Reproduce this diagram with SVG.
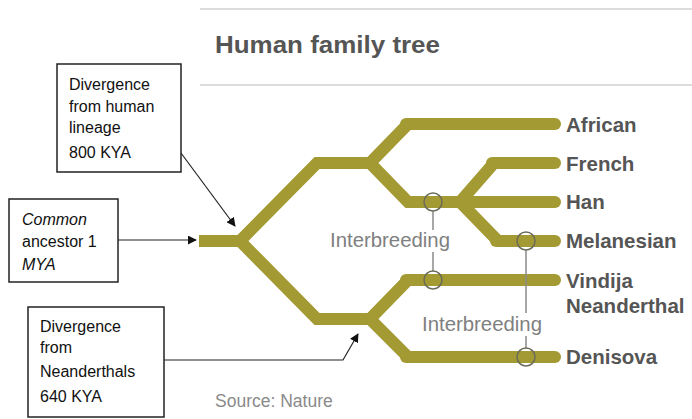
<svg xmlns="http://www.w3.org/2000/svg" width="692" height="419" viewBox="0 0 692 419">
  <style>
    .branch { fill: none; stroke: #a39a33; stroke-width: 12; stroke-linejoin: miter; }
    .tip { fill: none; stroke: #a39a33; stroke-width: 12; stroke-linecap: round; }
    .rule { stroke: #d0d0d0; stroke-width: 1.5; }
    .label { font-family: "Liberation Sans", Arial, sans-serif; font-weight: bold; font-size: 20.5px; fill: #555555; }
    .title { font-family: "Liberation Sans", Arial, sans-serif; font-weight: bold; font-size: 23px; fill: #555555; }
    .note { font-family: "Liberation Sans", Arial, sans-serif; font-size: 19.5px; fill: #808080; }
    .src { font-family: "Liberation Sans", Arial, sans-serif; font-size: 17.5px; fill: #8a8a8a; }
    .hit { fill: none; stroke: #6b6b5a; stroke-width: 1.5; }
    .link { stroke: #8a8a8a; stroke-width: 1.5; }
    .box { fill: #ffffff; stroke: #222222; stroke-width: 1.5; }
    .boxtext { font-family: "Liberation Sans", Arial, sans-serif; font-size: 16px; fill: #111111; }
    .arrow { fill: none; stroke: #222222; stroke-width: 1.2; }
  </style>
  <defs>
    <marker id="head" viewBox="0 0 10 10" refX="9" refY="5" markerWidth="9" markerHeight="9" markerUnits="userSpaceOnUse" orient="auto">
      <path d="M0,0 L10,5 L0,10 Z" fill="#111111"/>
    </marker>
  </defs>

  <rect width="692" height="419" fill="#ffffff"/>

  <!-- header -->
  <line class="rule" x1="200" y1="9" x2="692" y2="9"/>
  <text class="title" x="215" y="53" textLength="225" lengthAdjust="spacingAndGlyphs">Human family tree</text>
  <line class="rule" x1="200" y1="85" x2="692" y2="85"/>

  <!-- tree branches -->
  <g id="tree">
    <path class="branch" d="M199,241 H240 L317,163 H370 L408,124"/>
    <path class="branch" d="M370,163 L408,202 H460 L494,163"/>
    <path class="branch" d="M460,202 L498,241"/>
    <path class="branch" d="M240,241 L317,319 H370 L408,280"/>
    <path class="branch" d="M370,319 L408,357"/>
    <path class="tip" d="M406,124 H555"/>
    <path class="tip" d="M492,163 H555"/>
    <path class="tip" d="M455,202 H555"/>
    <path class="tip" d="M496,241 H555"/>
    <path class="tip" d="M406,280 H555"/>
    <path class="tip" d="M406,357 H555"/>
  </g>

  <!-- interbreeding links -->
  <g id="interbreeding">
    <line class="link" x1="433" y1="211" x2="433" y2="230"/>
    <line class="link" x1="433" y1="252" x2="433" y2="271"/>
    <text class="note" x="330" y="247" textLength="120" lengthAdjust="spacingAndGlyphs">Interbreeding</text>
    <line class="link" x1="526" y1="250" x2="526" y2="313"/>
    <line class="link" x1="526" y1="336" x2="526" y2="348"/>
    <text class="note" x="422" y="331" textLength="120" lengthAdjust="spacingAndGlyphs">Interbreeding</text>
    <circle class="hit" cx="433" cy="202" r="9"/>
    <circle class="hit" cx="433" cy="280" r="9"/>
    <circle class="hit" cx="526" cy="241" r="9"/>
    <circle class="hit" cx="526" cy="357" r="9"/>
  </g>

  <!-- leaf labels -->
  <g id="labels">
    <text class="label" x="566" y="132">African</text>
    <text class="label" x="566" y="171">French</text>
    <text class="label" x="566" y="209">Han</text>
    <text class="label" x="566" y="248">Melanesian</text>
    <text class="label" x="566" y="288">Vindija</text>
    <text class="label" x="566" y="313">Neanderthal</text>
    <text class="label" x="566" y="364">Denisova</text>
  </g>

  <text class="src" x="215" y="407">Source: Nature</text>

  <!-- annotation connectors -->
  <g id="connectors">
    <line class="arrow" x1="181" y1="153" x2="235" y2="226" marker-end="url(#head)"/>
    <line class="arrow" x1="118" y1="240" x2="196" y2="240" marker-end="url(#head)"/>
    <polyline class="arrow" points="164,360 343,360 358,334" marker-end="url(#head)"/>
  </g>

  <!-- annotation boxes -->
  <g id="note-human">
    <rect class="box" x="57" y="64" width="124" height="108"/>
    <text class="boxtext" x="69" y="90">Divergence</text>
    <text class="boxtext" x="69" y="112">from human</text>
    <text class="boxtext" x="69" y="133">lineage</text>
    <text class="boxtext" x="69" y="158">800 KYA</text>
  </g>
  <g id="note-ancestor">
    <rect class="box" x="9" y="199" width="109" height="83"/>
    <text class="boxtext" x="22" y="225" font-style="italic">Common</text>
    <text class="boxtext" x="22" y="247">ancestor 1</text>
    <text class="boxtext" x="22" y="270" font-style="italic">MYA</text>
  </g>
  <g id="note-neanderthal">
    <rect class="box" x="28" y="307" width="136" height="110"/>
    <text class="boxtext" x="40" y="332">Divergence</text>
    <text class="boxtext" x="40" y="353">from</text>
    <text class="boxtext" x="40" y="377">Neanderthals</text>
    <text class="boxtext" x="40" y="402">640 KYA</text>
  </g>
</svg>
